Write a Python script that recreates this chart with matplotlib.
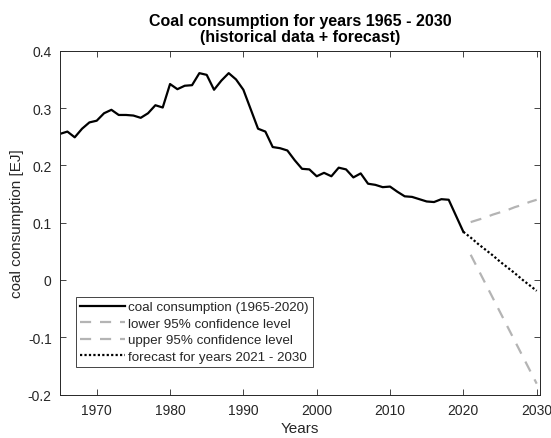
import matplotlib
matplotlib.use("Agg")
import matplotlib.pyplot as plt
from matplotlib.ticker import FixedLocator, FuncFormatter

plt.rcParams['font.family'] = ['Liberation Sans', 'DejaVu Sans']

years_hist = list(range(1965, 2021))
coal_hist = [
    0.255, 0.259, 0.249, 0.264, 0.275, 0.278, 0.291, 0.297, 0.288, 0.288,
    0.287, 0.283, 0.291, 0.305, 0.301, 0.342, 0.333, 0.339, 0.340, 0.361,
    0.358, 0.332, 0.348, 0.361, 0.350, 0.332, 0.298, 0.264, 0.259, 0.232,
    0.230, 0.226, 0.209, 0.194, 0.193, 0.181, 0.187, 0.181, 0.196, 0.193,
    0.179, 0.186, 0.168, 0.166, 0.162, 0.163, 0.154, 0.146, 0.145, 0.141,
    0.137, 0.136, 0.141, 0.140, 0.112, 0.084,
]

years_fc = list(range(2020, 2031))
forecast = [0.084, 0.074, 0.063, 0.053, 0.043, 0.032, 0.022, 0.012, 0.001, -0.009, -0.019]

years_ci = list(range(2021, 2031))
lower_ci = [0.044, 0.019, -0.006, -0.031, -0.056, -0.081, -0.106, -0.131, -0.156, -0.181]
upper_ci = [0.101, 0.105, 0.109, 0.114, 0.118, 0.122, 0.127, 0.131, 0.136, 0.140]

x_ticks = [1970, 1980, 1990, 2000, 2010, 2020, 2030]
y_ticks = [-0.2, -0.1, 0.0, 0.1, 0.2, 0.3, 0.4]

axis_col = '#262626'
gray = '#b4b4b4'

fig = plt.figure(figsize=(5.51, 4.39), dpi=100)
ax = fig.add_axes([0.109, 0.099, 0.871, 0.783])

ax.plot(years_hist, coal_hist, color='black', lw=1.6, label='coal consumption (1965-2020)')
ax.plot(years_ci, lower_ci, color=gray, lw=1.6, ls=(0, (5, 4)), label='lower 95% confidence level')
ax.plot(years_ci, upper_ci, color=gray, lw=1.6, ls=(0, (5, 4)), label='upper 95% confidence level')
ax.plot(years_fc, forecast, color='black', lw=1.6, ls=(0, (1, 1)), label='forecast for years 2021 - 2030')

ax.set_xlim(1965, 2030.45)
ax.set_ylim(-0.2, 0.4)
ax.xaxis.set_major_locator(FixedLocator(x_ticks))
ax.yaxis.set_major_locator(FixedLocator(y_ticks))
ax.yaxis.set_major_formatter(FuncFormatter(lambda v, p: '0' if abs(v) < 1e-9 else f'{v:g}'))

ax.tick_params(direction='in', top=True, right=True, length=4, width=0.6,
               colors=axis_col, labelsize=10, pad=6)
for s in ax.spines.values():
    s.set_color(axis_col)
    s.set_linewidth(0.7)

ax.set_xlabel('Years', fontsize=11, color=axis_col, labelpad=3)
ax.set_ylabel('coal consumption [EJ]', fontsize=11, color=axis_col, labelpad=3)
ax.set_title('Coal consumption for years 1965 - 2030\n(historical data + forecast)',
             fontsize=11.5, fontweight='bold', color='black', pad=7, linespacing=1.1)

leg = ax.legend(loc='lower left', bbox_to_anchor=(0.033, 0.080), fontsize=9.6,
                frameon=True, fancybox=False, edgecolor=axis_col, framealpha=1,
                handlelength=3.4, handletextpad=0.2, labelspacing=0.32,
                borderpad=0.3, borderaxespad=0)
leg.get_frame().set_linewidth(0.6)
for t in leg.get_texts():
    t.set_color(axis_col)

fig.savefig('out.png', dpi=100)
